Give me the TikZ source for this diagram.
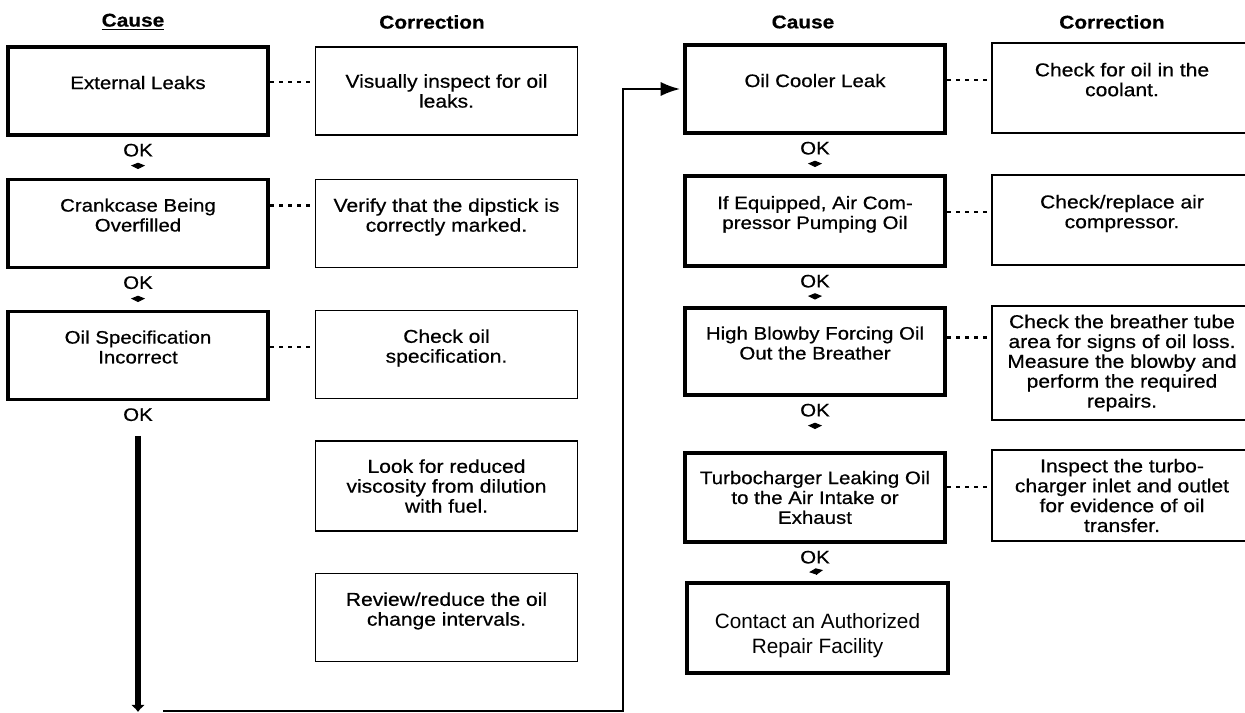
\documentclass[tikz,border=0pt]{standalone}
\usepackage{fontspec}
\newfontfamily\boxfont{Liberation Sans}[FakeStretch=1.13,FakeBold=0.6]
\newfontfamily\plainfont{Liberation Sans}
\usetikzlibrary{arrows.meta,positioning}
\tikzset{
  cause box/.style={draw,line width=2.2pt,minimum width=5.2cm,minimum height=1.76cm,
    align=center,inner sep=2pt,font=\boxfont\fontsize{10.3}{11.3}\selectfont},
  fix box/.style={draw,line width=1.1pt,minimum width=5.24cm,minimum height=1.76cm,
    align=center,inner sep=2pt,font=\boxfont\fontsize{10.6}{11.3}\selectfont},
  end box/.style={draw,line width=2.8pt,minimum width=5.22cm,minimum height=1.8cm,
    align=center,inner sep=2pt,text height=1.09cm,font=\plainfont\fontsize{11.8}{14.2}\selectfont},
  up/.style={text depth=0.34cm},
  head/.style={font=\boxfont\bfseries\fontsize{10.5}{12}\selectfont},
  tag/.style={font=\boxfont\fontsize{10.3}{11}\selectfont,inner sep=0pt},
  ok mark/.style={-{Kite[length=3.6pt,width=8pt,inset=1.6pt]},line width=0.6pt,shorten <=0.22cm,shorten >=#1},
  ok mark/.default=0.15cm,
  link/.style={line width=1.2pt,dash pattern=on 2.2pt off 3pt},
  long flow/.style={-{Latex[length=4pt,width=8pt]},line width=3.5pt,shorten <=0.29cm},
  back flow/.style={-{Latex[length=11pt,width=8pt]},line width=1.1pt,shorten >=0.06cm},
}
\begin{document}
\begin{tikzpicture}
  \useasboundingbox (0,0) rectangle (24.9,-14.26);
  % column heads
  \node[head] (h1) at (2.66,-0.44) {\underline{Cause}};
  \node[head] (h2) at (8.64,-0.44) {Correction};
  \node[head] (h3) at (16.06,-0.44) {Cause};
  \node[head] (h4) at (22.24,-0.44) {Correction};
  % left causes
  \node[cause box,up] (ext) at (2.76,-1.82) {External Leaks};
  \node[cause box,up] (crank) at (2.76,-4.47) {Crankcase Being\\Overfilled};
  \node[cause box,up] (spec) at (2.76,-7.11) {Oil Specification\\Incorrect};
  % left corrections
  \node[fix box] (vis) at (8.93,-1.82) {Visually inspect for oil\\leaks.};
  \node[fix box,up] (dip) at (8.93,-4.47) {Verify that the dipstick is\\correctly marked.};
  \node[fix box,up] (chk) at (8.93,-7.09) {Check oil\\specification.};
  \node[fix box,minimum height=1.8cm] (visc) at (8.93,-9.72) {Look for reduced\\viscosity from dilution\\with fuel.};
  \node[fix box,up] (rev) at (8.93,-12.35) {Review/reduce the oil\\change intervals.};
  % right causes
  \node[cause box,up] (oil) at (16.3,-1.78) {Oil Cooler Leak};
  \node[cause box,up,minimum height=1.8cm] (equip) at (16.3,-4.42) {If Equipped, Air Com-\\pressor Pumping Oil};
  \node[cause box,up,minimum height=1.74cm] (blow) at (16.3,-7.03) {High Blowby Forcing Oil\\Out the Breather};
  \node[cause box,minimum height=1.78cm] (turbo) at (16.3,-9.95) {Turbocharger Leaking Oil\\to the Air Intake or\\Exhaust};
  \node[end box] (rep) at (16.35,-12.56) {Contact an Authorized\\Repair Facility};
  % right corrections
  \node[fix box,up,minimum width=5.2cm,minimum height=1.8cm] (cool) at (22.44,-1.76) {Check for oil in the\\coolant.};
  \node[fix box,up,minimum width=5.2cm,minimum height=1.8cm] (repl) at (22.44,-4.4) {Check/replace air\\compressor.};
  \node[fix box,minimum width=5.2cm,minimum height=2.28cm] (brth) at (22.44,-7.26) {Check the breather tube\\area for signs of oil loss.\\Measure the blowby and\\perform the required\\repairs.};
  \node[fix box,minimum width=5.2cm,minimum height=1.82cm] (insp) at (22.44,-9.91) {Inspect the turbo-\\charger inlet and outlet\\for evidence of oil\\transfer.};
  % OK tags
  \node[tag,below=0.13cm of ext] (ok1) {OK};
  \node[tag,below=0.13cm of crank] (ok2) {OK};
  \node[tag,below=0.13cm of spec] (ok3) {OK};
  \node[tag,below=0.13cm of oil] (ok4) {OK};
  \node[tag,below=0.13cm of equip] (ok5) {OK};
  \node[tag,below=0.13cm of blow] (ok6) {OK};
  \node[tag,below=0.13cm of turbo] (ok7) {OK};
  \foreach \a/\b/\g in {ok1/crank/0.17cm,ok2/spec/0.15cm,ok4/equip/0.14cm,ok5/blow/0.13cm,ok6/turbo/0.44cm,ok7/rep/0.12cm}
    \draw[ok mark=\g] (\a.south) -- (\b.north);
  % dotted links cause - correction
  \foreach \a/\b/\s in {ext/vis/0.18,crank/dip/0.36,spec/chk/0.17,oil/cool/0.18,equip/repl/0.18,blow/brth/0.28,turbo/insp/0.21}
    \draw[link] ([yshift=\s cm]\a.east) -- ([yshift=\s cm]\a.east -| \b.west);
  % jump to second column
  \coordinate (arrbot) at (2.8,-14.24);
  \coordinate (retstart) at (3.26,-14.22);
  \draw[long flow] (ok3.south) -- (ok3.south |- arrbot);
  \draw[back flow] (retstart) -| ([xshift=-1.2cm]oil.west) -- (oil.west);
\end{tikzpicture}
\end{document}
